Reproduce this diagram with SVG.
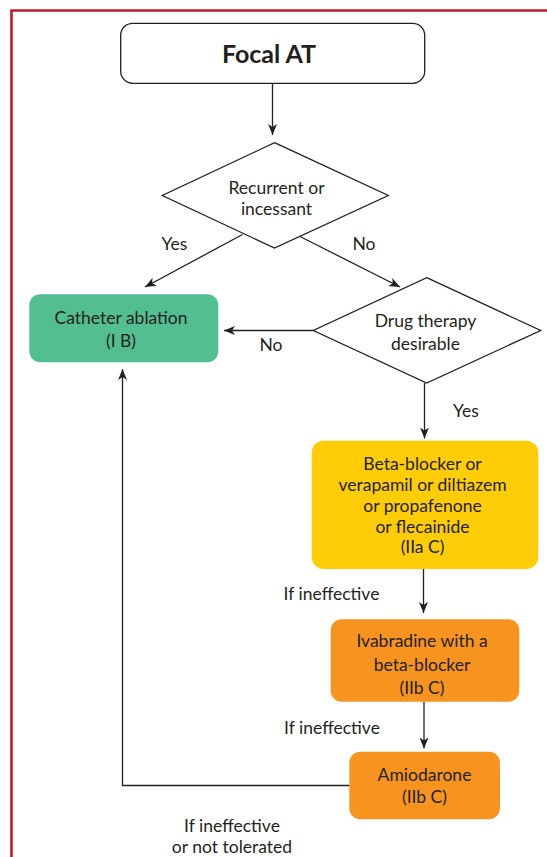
<svg xmlns="http://www.w3.org/2000/svg" width="547" height="857" viewBox="0 0 547 857">
<defs>
<marker id="ah" markerUnits="userSpaceOnUse" markerWidth="12" markerHeight="10" refX="11" refY="4.5" orient="auto">
<path d="M0,0 L11,4.5 L0,9 L3,4.5 Z" fill="#231F20"/>
</marker>
<style>
text{font-family:Lato,"Open Sans","Liberation Sans",sans-serif;font-size:17.5px;fill:#231F20;text-anchor:middle}
.title{font-weight:bold;font-size:25px}
.box{stroke:none}
.dia{fill:#fff;stroke:#231F20;stroke-width:1.3}
.conn path{fill:none;stroke:#231F20;stroke-width:1.3}
.arr{marker-end:url(#ah)}
</style>
</defs>
<rect width="547" height="857" fill="#fff"/>
<path d="M11.5,857 V10.5 H547" fill="none" stroke="#C0192F" stroke-width="2.6"/>

<g class="conn">
<path class="arr" d="M272.5,83.5 V135"/>
<path class="arr" d="M242.5,234.5 L145,287"/>
<path class="arr" d="M300,236.5 L400,287"/>
<path class="arr" d="M313,330.5 H224"/>
<path class="arr" d="M424.5,383 V438.5"/>
<path class="arr" d="M423.5,569 V613"/>
<path class="arr" d="M424,702 V748.5"/>
<path class="arr" d="M349.5,785.5 H122.5 V369"/>
<text x="174.5" y="250">Yes</text>
<text x="364" y="250">No</text>
<text x="271" y="351">No</text>
<text x="466" y="416.5">Yes</text>
<text x="331.5" y="600">If ineffective</text>
<text x="332" y="734">If ineffective</text>
<text x="232" y="831.5">If ineffective</text>
<text x="232" y="853.3">or not tolerated</text>
</g>

<g id="focal">
<rect x="120.7" y="23.3" width="304" height="60" rx="12" fill="#fff" stroke="#231F20" stroke-width="1.3"/>
<text class="title" x="269" y="63">Focal AT</text>
</g>

<g id="recurrent">
<path class="dia" d="M274.5,142.7 L388.3,195.5 L274.5,248 L162.3,195.5 Z"/>
<text x="276.5" y="193.5">Recurrent or</text>
<text x="276.5" y="215">incessant</text>
</g>

<g id="catheter">
<rect class="box" x="29.3" y="294.3" width="189" height="68" rx="11" fill="#53BE8F"/>
<text x="121" y="324">Catheter ablation</text>
<text x="121" y="346.7">(I B)</text>
</g>

<g id="drug">
<path class="dia" d="M426.7,277.7 L540.7,330.5 L426.7,383 L313.3,330.5 Z"/>
<text x="425.5" y="327.3">Drug therapy</text>
<text x="425.5" y="350">desirable</text>
</g>

<g id="betablocker">
<rect class="box" x="311.7" y="440.7" width="226.6" height="128.3" rx="12" fill="#FFCC08"/>
<text x="422.5" y="470">Beta-blocker or</text>
<text x="422.5" y="490.7">verapamil or diltiazem</text>
<text x="422.5" y="511.7">or propafenone</text>
<text x="422.5" y="532.7">or flecainide</text>
<text x="422.5" y="553.3">(IIa C)</text>
</g>

<g id="ivabradine">
<rect class="box" x="330.7" y="619.3" width="188.6" height="82.4" rx="11" fill="#F7941F"/>
<text x="422" y="647.3">Ivabradine with a</text>
<text x="422" y="670.7">beta-blocker</text>
<text x="422" y="694">(IIb C)</text>
</g>

<g id="amiodarone">
<rect class="box" x="349.3" y="751.7" width="150.7" height="67.6" rx="11" fill="#F7941F"/>
<text x="424.5" y="780.7">Amiodarone</text>
<text x="424.5" y="803.3">(IIb C)</text>
</g>
</svg>
